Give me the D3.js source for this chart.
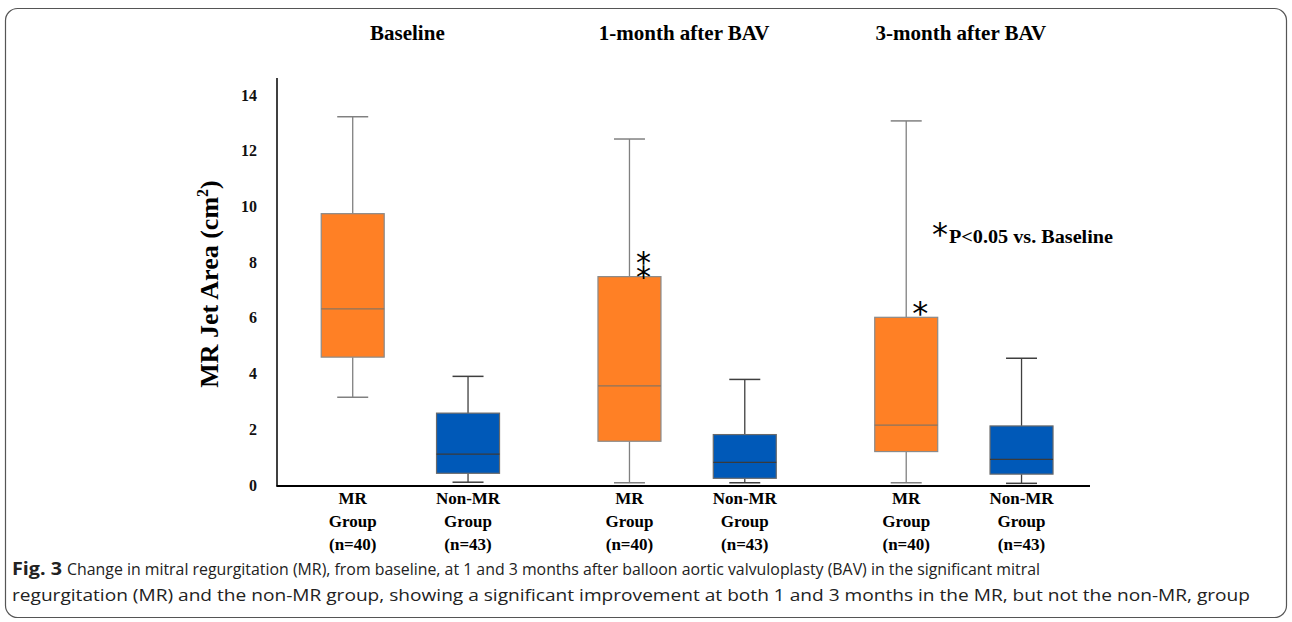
<!DOCTYPE html>
<html><head><meta charset="utf-8">
<script src="https://cdn.jsdelivr.net/npm/d3@7"></script>
<style>body{margin:0;background:#fff;}svg{display:block;}</style>
</head><body>
<svg id="chart" width="1292" height="622"></svg>
<script>
// ---- data ----
const timepoints = ["Baseline", "1-month after BAV", "3-month after BAV"];
const groups = ["MR", "Non-MR"];
const groupLabels = [["MR", "Group", "(n=40)"], ["Non-MR", "Group", "(n=43)"]];
// [min, q1, median, q3, max] per timepoint, per group
const mrStats = [
  [3.15, 4.59, 6.32, 9.74, 13.22],
  [0.08, 1.57, 3.56, 7.48, 12.42],
  [0.08, 1.20, 2.15, 6.02, 13.07]
];
const nonMrStats = [
  [0.10, 0.42, 1.11, 2.58, 3.90],
  [0.08, 0.24, 0.81, 1.81, 3.79],
  [0.06, 0.39, 0.92, 2.12, 4.55]
];
const significanceMarks = ["", "\u2051", "*"]; // marks above MR box
const yTicks = [0, 2, 4, 6, 8, 10, 12, 14];
const yLabel = "MR Jet Area (cm";
const legendText = "P<0.05 vs. Baseline";
const captionBold = "Fig. 3";
const captionLine1 = "Change in mitral regurgitation (MR), from baseline, at 1 and 3 months after balloon aortic valvuloplasty (BAV) in the significant mitral";
const captionLine2 = "regurgitation (MR) and the non-MR group, showing a significant improvement at both 1 and 3 months in the MR, but not the non-MR, group";

// ---- layout ----
const svg = d3.select("#chart");
const serif = "'Liberation Serif','Times New Roman',serif";
const starFont = "'DejaVu Sans','Noto Sans',sans-serif";
const colors = {MR: "#FF8025", "Non-MR": "#0059B8"};
const strokeCol = {MR: "#808080", "Non-MR": "#3f3f3f"};
const boxOutline = {MR: "#8a8a8a", "Non-MR": "#6a6a6a"};

// border
svg.append("rect").attr("x", 5.5).attr("y", 8.5).attr("width", 1281).attr("height", 609)
  .attr("rx", 12).attr("fill", "none").attr("stroke", "#555").attr("stroke-width", 1.2);

const y = d3.scaleLinear().domain([0, 14]).range([485, 95]);
const x = d3.scaleBand().domain(timepoints).range([272, 1102.25]).paddingInner(0).paddingOuter(0);
const xs = d3.scalePoint().domain(groups).range([0, x.bandwidth()]).padding(0.7);

const boxW = 63, capW = 31;

// axes
const yAxis = d3.axisLeft(y).tickValues(yTicks).tickSize(0).tickPadding(20).tickFormat(d3.format("d"));
const gy = svg.append("g").attr("transform", "translate(277,0)").call(yAxis);
gy.select(".domain").remove();
gy.selectAll("text").attr("font-family", serif).attr("font-weight", "bold")
  .attr("font-size", 16).attr("fill", "#111");
svg.append("line").attr("x1", 277).attr("x2", 277).attr("y1", 78).attr("y2", 486.5)
  .attr("stroke", "#000").attr("stroke-width", 1.5);
svg.append("line").attr("x1", 276.5).attr("x2", 1090).attr("y1", 486).attr("y2", 486)
  .attr("stroke", "#000").attr("stroke-width", 2);

// y label
const yl = svg.append("text").attr("transform", "translate(218,284) rotate(-90)")
  .attr("text-anchor", "middle").attr("font-family", serif).attr("font-weight", "bold")
  .attr("font-size", 26).attr("fill", "#000");
yl.append("tspan").text(yLabel);
yl.append("tspan").text("2").attr("font-size", 16).attr("dy", -10);
yl.append("tspan").text(")").attr("dy", 10);

// titles
svg.selectAll(".title").data(timepoints).join("text").attr("class", "title")
  .attr("x", d => x(d) + x.bandwidth() / 2 - 3).attr("y", 40)
  .attr("text-anchor", "middle").attr("font-family", serif).attr("font-weight", "bold")
  .attr("font-size", 21).attr("fill", "#000").text(d => d);

// boxes
const boxes = [];
timepoints.forEach((t, i) => {
  boxes.push({t, g: "MR", s: mrStats[i], sig: significanceMarks[i], lab: groupLabels[0]});
  boxes.push({t, g: "Non-MR", s: nonMrStats[i], sig: "", lab: groupLabels[1]});
});
const bg = svg.selectAll(".box").data(boxes).join("g").attr("class", "box")
  .attr("transform", d => `translate(${x(d.t) + xs(d.g)},0)`);
// whisker lines
bg.append("line").attr("x1", 0).attr("x2", 0).attr("y1", d => y(d.s[4])).attr("y2", d => y(d.s[3]))
  .attr("stroke", d => strokeCol[d.g]).attr("stroke-width", 1.3);
bg.append("line").attr("x1", 0).attr("x2", 0).attr("y1", d => y(d.s[1])).attr("y2", d => y(d.s[0]))
  .attr("stroke", d => strokeCol[d.g]).attr("stroke-width", 1.3);
// caps
bg.append("line").attr("x1", -capW / 2).attr("x2", capW / 2).attr("y1", d => y(d.s[4])).attr("y2", d => y(d.s[4]))
  .attr("stroke", d => strokeCol[d.g]).attr("stroke-width", 1.5);
bg.append("line").attr("x1", -capW / 2).attr("x2", capW / 2).attr("y1", d => y(d.s[0])).attr("y2", d => y(d.s[0]))
  .attr("stroke", d => strokeCol[d.g]).attr("stroke-width", 1.5);
// box
bg.append("rect").attr("x", -boxW / 2).attr("width", boxW)
  .attr("y", d => y(d.s[3])).attr("height", d => y(d.s[1]) - y(d.s[3]))
  .attr("fill", d => colors[d.g]).attr("stroke", d => boxOutline[d.g]).attr("stroke-width", 1.2);
// median
bg.append("line").attr("x1", -boxW / 2).attr("x2", boxW / 2).attr("y1", d => y(d.s[2])).attr("y2", d => y(d.s[2]))
  .attr("stroke", d => d.g === "MR" ? "#8a7460" : "#3a3a3a").attr("stroke-width", 1.3);
// significance marks
bg.filter(d => d.sig).append("text").attr("text-anchor", "middle")
  .attr("x", 14).attr("y", d => y(d.s[3]) + (d.sig === "*" ? 7 : 2))
  .attr("font-family", starFont).attr("font-size", d => d.sig === "*" ? 32 : 30)
  .attr("fill", "#000").text(d => d.sig);
// category labels
bg.each(function(d) {
  d.lab.forEach((l, k) => {
    d3.select(this).append("text").attr("x", 0).attr("y", 504 + k * 23)
      .attr("text-anchor", "middle").attr("font-family", serif).attr("font-weight", "bold")
      .attr("font-size", 17).attr("fill", "#000").text(l);
  });
});

// legend
svg.append("text").attr("x", 940).attr("y", 245).attr("text-anchor", "middle")
  .attr("font-family", starFont).attr("font-size", 32).attr("fill", "#000").text("*");
svg.append("text").attr("x", 949).attr("y", 242.5).attr("font-family", serif).attr("font-weight", "bold")
  .attr("font-size", 18).attr("fill", "#000")
  .attr("textLength", 164).attr("lengthAdjust", "spacingAndGlyphs").text(legendText);

// caption
const sans = "'Open Sans','Noto Sans',sans-serif";
svg.append("text").attr("x", 12).attr("y", 575).attr("font-family", sans)
  .attr("font-size", 17).attr("font-weight", "bold").attr("fill", "#222")
  .attr("textLength", 50).attr("lengthAdjust", "spacingAndGlyphs").text(captionBold);
svg.append("text").attr("x", 67).attr("y", 575).attr("font-family", sans)
  .attr("font-size", 17).attr("fill", "#222")
  .attr("textLength", 973).attr("lengthAdjust", "spacingAndGlyphs").text(captionLine1);
svg.append("text").attr("x", 12).attr("y", 601).attr("font-family", sans)
  .attr("font-size", 17).attr("fill", "#222")
  .attr("textLength", 1238).attr("lengthAdjust", "spacingAndGlyphs").text(captionLine2);
</script>
</body></html>
